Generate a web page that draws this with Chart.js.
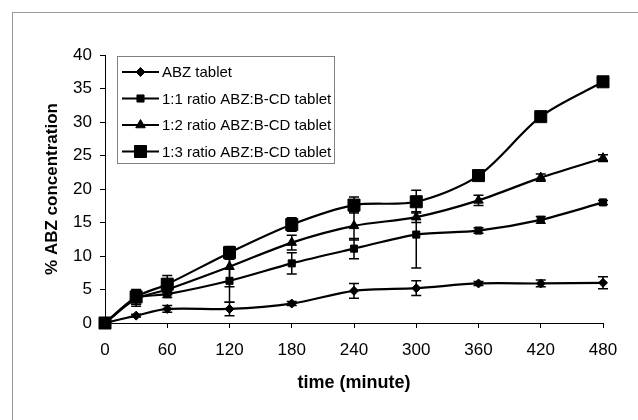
<!DOCTYPE html>
<html>
<head>
<meta charset="utf-8">
<script src="https://cdn.jsdelivr.net/npm/chart.js@4"></script>
<style>
  html, body { margin: 0; padding: 0; background: #fff; }
  canvas { display: block; }
</style>
</head>
<body>
<canvas id="dissolution" width="638" height="420"></canvas>
<script>
// --- chart data ---
const times = [0, 30, 60, 120, 180, 240, 300, 360, 420, 480];
const xTicks = [0, 60, 120, 180, 240, 300, 360, 420, 480];
const yTicks = [0, 5, 10, 15, 20, 25, 30, 35, 40];

const seriesNames = [
    'ABZ tablet',
    '1:1 ratio ABZ:B-CD tablet',
    '1:2 ratio ABZ:B-CD tablet',
    '1:3 ratio ABZ:B-CD tablet'
];

const abzTablet = [0, 1.1, 2.1, 2.1, 2.9, 4.8, 5.2, 5.9, 5.9, 6.0];
const ratio11 = [0, 3.7, 4.3, 6.3, 8.9, 11.1, 13.2, 13.8, 15.4, 18.0];
const ratio12 = [0, 3.6, 5.0, 8.4, 12.0, 14.5, 15.8, 18.3, 21.7, 24.6];
const ratio13 = [0, 3.9, 5.8, 10.5, 14.7, 17.6, 18.1, 22.0, 30.8, 36.0];

// standard deviations (error bars)
const abzTabletErr = [0, 0.2, 0.5, 1.0, 0.3, 1.1, 1.1, 0.3, 0.5, 0.9];
const ratio11Err = [0, 1.2, 0.5, 3.2, 1.6, 1.5, 5.0, 0.4, 0.5, 0.3];
const ratio12Err = [0, 0.8, 0.8, 3.0, 1.1, 2.1, 0.8, 0.75, 0.55, 0.5];
const ratio13Err = [0, 1.1, 1.3, 0.6, 1.0, 1.2, 1.7, 0.5, 0.4, 0.6];

const seriesValues = [abzTablet, ratio11, ratio12, ratio13];
const seriesErrors = [abzTabletErr, ratio11Err, ratio12Err, ratio13Err];

// marker look per series
const markerStyles = [
    { pointStyle: 'rectRot', radius: 4.5 },
    { pointStyle: 'rect', radius: 5 },
    { pointStyle: 'triangle', radius: 5.5 },
    { pointStyle: 'rect', radius: 8.5 }
];

const FONT = "'Liberation Sans', Arial, sans-serif";

// Excel-like outer frame
const frame = {
    id: 'frame',
    beforeDraw(chart) {
        const ctx = chart.ctx;
        ctx.save();
        ctx.fillStyle = '#fff';
        ctx.fillRect(0, 0, chart.width, chart.height);
        ctx.strokeStyle = '#9a9a9a';
        ctx.lineWidth = 1;
        ctx.strokeRect(12.5, 12.5, 800, 800);
        ctx.restore();
    }
};

// vertical error bars with caps
const errorBars = {
    id: 'errorBars',
    beforeDatasetsDraw(chart) {
        const { ctx, scales: { x, y } } = chart;
        ctx.save();
        ctx.strokeStyle = '#000';
        ctx.lineWidth = 1.5;
        seriesErrors.forEach((errs, i) => {
            const vals = seriesValues[i];
            times.forEach((t, j) => {
                if (!errs[j]) return;
                const px = x.getPixelForValue(t);
                const top = y.getPixelForValue(vals[j] + errs[j]);
                const bot = y.getPixelForValue(vals[j] - errs[j]);
                ctx.beginPath();
                ctx.moveTo(px, top); ctx.lineTo(px, bot);
                ctx.moveTo(px - 5, top); ctx.lineTo(px + 5, top);
                ctx.moveTo(px - 5, bot); ctx.lineTo(px + 5, bot);
                ctx.stroke();
            });
        });
        ctx.restore();
    }
};

// boxed legend inside the plot, line + marker samples
const boxLegend = {
    id: 'boxLegend',
    afterDraw(chart) {
        const ctx = chart.ctx;
        ctx.save();
        ctx.fillStyle = '#fff';
        ctx.fillRect(118, 57, 216, 106);
        ctx.strokeStyle = '#808080';
        ctx.lineWidth = 1;
        ctx.strokeRect(117.5, 56.5, 217, 107);
        ctx.font = '15px ' + FONT;
        ctx.textBaseline = 'middle';
        seriesNames.forEach((name, i) => {
            const yy = 72 + i * 26.5;
            ctx.strokeStyle = '#000';
            ctx.lineWidth = 2;
            ctx.beginPath();
            ctx.moveTo(122, yy); ctx.lineTo(159, yy);
            ctx.stroke();
            ctx.fillStyle = '#000';
            ctx.lineWidth = 1;
            Chart.helpers.drawPoint(ctx, {
                pointStyle: markerStyles[i].pointStyle,
                radius: markerStyles[i].radius,
                rotation: 0,
                borderWidth: 1
            }, 140.5, yy);
            ctx.fillStyle = '#000';
            ctx.fillText(name, 162, yy + 1);
        });
        ctx.restore();
    }
};

const datasets = seriesValues.map((vals, i) => ({
    label: seriesNames[i],
    data: vals.map((v, j) => ({ x: times[j], y: v })),
    borderColor: '#000',
    backgroundColor: '#000',
    borderWidth: 2.2,
    tension: 0.3,
    pointStyle: markerStyles[i].pointStyle,
    pointRadius: markerStyles[i].radius,
    pointBackgroundColor: '#000',
    pointBorderColor: '#000',
    pointBorderWidth: 1,
    clip: false
}));

new Chart(document.getElementById('dissolution'), {
    type: 'line',
    data: { datasets },
    plugins: [frame, errorBars, boxLegend],
    options: {
        responsive: false,
        animation: false,
        devicePixelRatio: 1,
        layout: { padding: { top: 55, right: 35, bottom: 0, left: 0 } },
        plugins: {
            legend: { display: false },
            tooltip: { enabled: false }
        },
        scales: {
            x: {
                type: 'linear',
                min: 0,
                max: 480,
                afterFit: (s) => { s.height = 97; },
                afterBuildTicks: (s) => { s.ticks = xTicks.map(v => ({ value: v })); },
                border: { color: '#000', width: 1 },
                grid: { drawOnChartArea: false, drawTicks: true, tickLength: 5, color: '#000' },
                ticks: { color: '#000', font: { family: FONT, size: 17 }, padding: 12, maxRotation: 0 },
                title: {
                    display: true,
                    text: 'time (minute)',
                    color: '#000',
                    font: { family: FONT, size: 18, weight: 'bold' },
                    padding: { top: 0, bottom: 26 }
                }
            },
            y: {
                min: 0,
                max: 40,
                afterFit: (s) => { s.width = 105; },
                afterBuildTicks: (s) => { s.ticks = yTicks.map(v => ({ value: v })); },
                border: { color: '#000', width: 1 },
                grid: { drawOnChartArea: false, drawTicks: true, tickLength: 5, color: '#000' },
                ticks: { color: '#000', font: { family: FONT, size: 17 }, padding: 8 },
                title: {
                    display: true,
                    text: '% ABZ concentration',
                    color: '#000',
                    font: { family: FONT, size: 17, weight: 'bold' },
                    padding: { top: 42, bottom: 0 }
                }
            }
        }
    }
});
</script>
</body>
</html>
